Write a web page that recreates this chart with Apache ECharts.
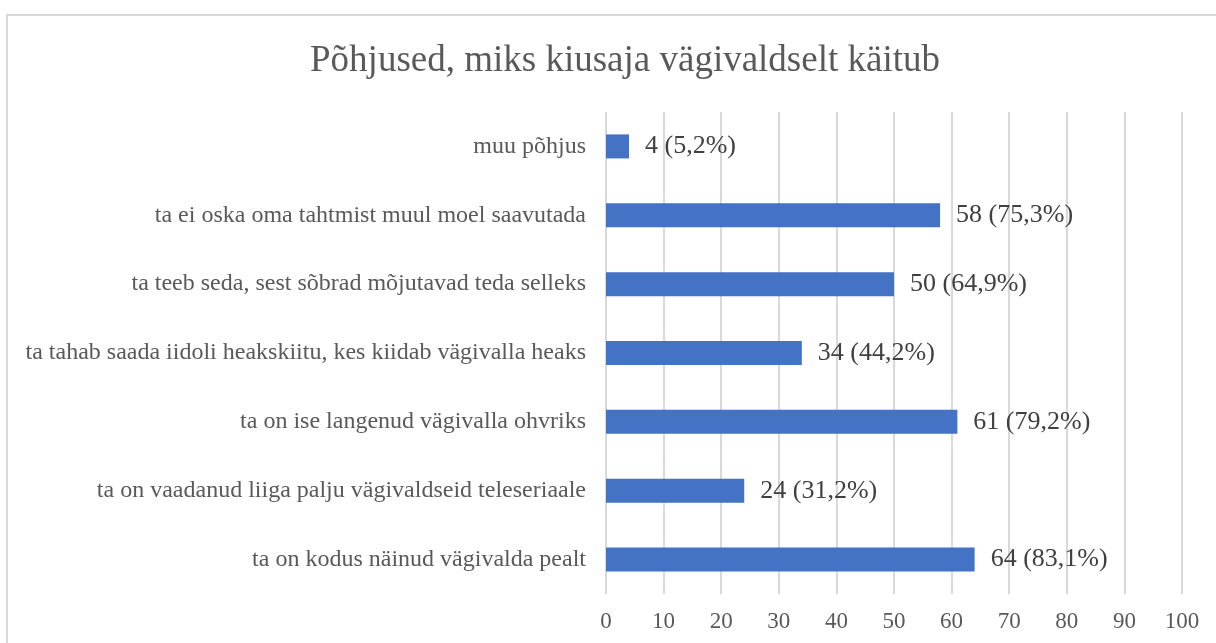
<!DOCTYPE html>
<html>
<head>
<meta charset="utf-8">
<script src="https://cdn.jsdelivr.net/npm/echarts@6/dist/echarts.min.js"></script>
<style>
  html, body { margin: 0; padding: 0; background: #fff; }
  #main { width: 1216px; height: 643px; }
</style>
</head>
<body>
<div id="main"></div>
<script>
  // andmed (alt üles)
  var categories = [
    'ta on kodus näinud vägivalda pealt',
    'ta on vaadanud liiga palju vägivaldseid teleseriaale',
    'ta on ise langenud vägivalla ohvriks',
    'ta tahab saada iidoli heakskiitu, kes kiidab vägivalla heaks',
    'ta teeb seda, sest sõbrad mõjutavad teda selleks',
    'ta ei oska oma tahtmist muul moel saavutada',
    'muu põhjus'
  ]
  var counts = [64, 24, 61, 34, 50, 58, 4]
  var percents = ['83,1', '31,2', '79,2', '44,2', '64,9', '75,3', '5,2']

  var serif = '"Liberation Serif", "DejaVu Serif", serif'
  var myChart = echarts.init(document.getElementById('main'))

  myChart.setOption({
    animation: false,
    graphic: [{
      type: 'rect',
      shape: { x: 7, y: 15, width: 1240, height: 660 },
      style: { fill: 'none', stroke: '#d9d9d9', lineWidth: 2 },
      silent: true
    }],
    title: {
      text: 'Põhjused, miks kiusaja vägivaldselt käitub',
      left: 620,
      top: 38,
      textAlign: 'center',
      textStyle: { fontFamily: serif, fontSize: 37, fontWeight: 'normal', color: '#595959' }
    },
    grid: { left: 606, right: 34, top: 112, bottom: 49, containLabel: false },
    xAxis: {
      type: 'value',
      min: 0,
      max: 100,
      interval: 10,
      axisLine: { show: false },
      axisTick: { show: false },
      splitLine: { lineStyle: { color: '#d9d9d9', width: 2 } },
      axisLabel: { margin: 16, fontFamily: serif, fontSize: 23, color: '#595959' }
    },
    yAxis: {
      type: 'category',
      data: categories,
      axisLine: { show: false },
      axisTick: { show: false },
      axisLabel: { margin: 20, fontFamily: serif, fontSize: 24, color: '#595959' }
    },
    series: [{
      type: 'bar',
      data: counts,
      barWidth: 24,
      itemStyle: { color: '#4472C4' },
      label: {
        show: true,
        position: 'right',
        distance: 16,
        fontFamily: serif,
        fontSize: 26,
        color: '#404040',
        formatter: function (p) {
          return p.value + ' (' + percents[p.dataIndex] + '%)'
        }
      }
    }]
  })
</script>
</body>
</html>
